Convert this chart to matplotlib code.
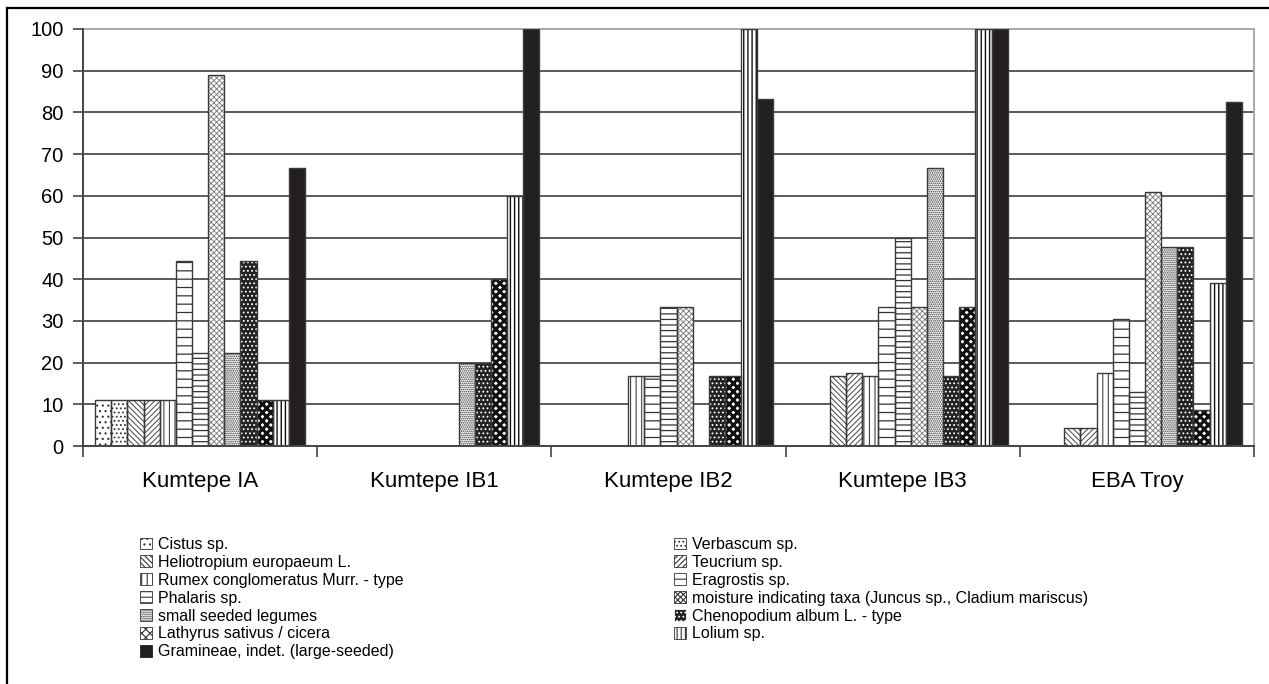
import matplotlib
matplotlib.use("Agg")
import matplotlib.pyplot as plt
import matplotlib.patches as mpatches
from matplotlib.lines import Line2D
import numpy as np

plt.rcParams['font.family'] = ['Liberation Sans', 'DejaVu Sans']
plt.rcParams['hatch.linewidth'] = 0.8

# sites (x groups)
sites = ["Kumtepe IA", "Kumtepe IB1", "Kumtepe IB2", "Kumtepe IB3", "EBA Troy"]

# taxa, in plotting order
taxa = [
    "Cistus sp.",
    "Verbascum sp.",
    "Heliotropium europaeum L.",
    "Teucrium sp.",
    "Rumex conglomeratus Murr. - type",
    "Eragrostis sp.",
    "Phalaris sp.",
    "moisture indicating taxa (Juncus sp., Cladium mariscus)",
    "small seeded legumes",
    "Chenopodium album L. - type",
    "Lathyrus sativus / cicera",
    "Lolium sp.",
    "Gramineae, indet. (large-seeded)",
]

# percentage values per taxon, one per site
cistus       = [11.1, 0, 0, 0, 0]
verbascum    = [11.1, 0, 0, 0, 0]
heliotropium = [11.1, 0, 0, 16.7, 4.3]
teucrium     = [11.1, 0, 0, 17.4, 4.3]
rumex        = [11.1, 0, 16.7, 16.7, 17.4]
eragrostis   = [44.4, 0, 16.7, 33.3, 30.4]
phalaris     = [22.2, 0, 33.3, 50.0, 13.0]
moisture     = [88.9, 0, 33.3, 33.3, 60.9]
legumes      = [22.2, 20.0, 0, 66.7, 47.8]
chenopodium  = [44.4, 20.0, 16.7, 16.7, 47.8]
lathyrus     = [11.1, 40.0, 16.7, 33.3, 8.7]
lolium       = [11.1, 60.0, 100, 100, 39.1]
gramineae    = [66.7, 100, 83.3, 100, 82.6]

values = [cistus, verbascum, heliotropium, teucrium, rumex, eragrostis,
          phalaris, moisture, legumes, chenopodium, lathyrus, lolium, gramineae]

# (facecolor, hatch, hatch colour, hatch linewidth)
styles = [
    ("white", "...", "#333333", 0.8),
    ("white", "....", "#333333", 0.8),
    ("white", "\\" * 6, "#444444", 0.7),
    ("white", "/" * 6, "#444444", 0.7),
    ("white", "|||", "#444444", 0.8),
    ("white", "--", "#333333", 0.9),
    ("white", "---", "#333333", 0.9),
    ("white", "xxxxxx", "#777777", 0.6),
    ("white", "........", "#333333", 0.8),
    ("#222222", "....", "white", 0.8),
    ("white", "xxxx", "#111111", 2.2),
    ("white", "||||", "#111111", 1.0),
    ("#231f20", "", "#231f20", 0.8),
]

fig = plt.figure(figsize=(12.69, 6.84), dpi=100)
ax = fig.add_axes([83 / 1269, 238 / 684, (1254 - 83) / 1269, (446 - 29) / 684])

x = np.arange(len(sites))
w = 1 / 14.5
edge = "#3a3a3a"
handles = []
for j, (vals, (fc, hatch, hc, hlw)) in enumerate(zip(values, styles)):
    pos = x + (j - 6) * w
    vals = np.array(vals, dtype=float)
    m = vals > 0
    with plt.rc_context({"hatch.linewidth": hlw}):
        bars = ax.bar(pos[m], vals[m], width=w, facecolor=fc, edgecolor=hc,
                      hatch=hatch, linewidth=0, zorder=3)
        h = mpatches.Patch(facecolor=fc, edgecolor=hc, hatch=hatch, linewidth=0)
    for b in list(bars) + [h]:
        if hasattr(b, "set_hatch_linewidth"):
            b.set_hatch_linewidth(hlw)
    ax.bar(pos[m], vals[m], width=w, fill=False, edgecolor=edge,
           linewidth=1.0, zorder=4)
    handles.append(h)

ax.set_xlim(-0.5, 4.5)
ax.set_ylim(0, 100)
ax.set_yticks(np.arange(0, 101, 10))
ax.set_xticks(np.arange(-0.5, 4.6, 1))
ax.set_xticklabels([])
ax.set_xticks(x, minor=True)
ax.set_xticklabels(sites, minor=True)
ax.tick_params(axis="x", which="minor", length=0, pad=18, labelsize=16)
ax.tick_params(axis="x", which="major", length=8, width=1.2, color="#444444",
               direction="out")
ax.tick_params(axis="y", length=7, width=1.2, color="#444444", labelsize=14.5,
               pad=7)

ax.yaxis.grid(True, color="#5a5a5a", linewidth=1.4, zorder=0)
ax.set_axisbelow(True)
for s in ("top", "right"):
    ax.spines[s].set_color("#aaaaaa")
    ax.spines[s].set_linewidth(1.4)
for s in ("left", "bottom"):
    ax.spines[s].set_color("#444444")
    ax.spines[s].set_linewidth(1.4)
    ax.spines[s].set_zorder(5)

# legend in two columns, filled row by row
left_idx = [0, 2, 4, 6, 8, 10, 12]
right_idx = [1, 3, 5, 7, 9, 11]
leg_kw = dict(frameon=False, fontsize=11.5, handlelength=0.75,
              handleheight=0.75, handletextpad=0.35, labelspacing=0.18,
              borderpad=0, borderaxespad=0, loc="upper left")
leg1 = fig.legend([handles[i] for i in left_idx], [taxa[i] for i in left_idx],
                  bbox_to_anchor=(140 / 1269, 1 - 537 / 684), **leg_kw)
leg2 = fig.legend([handles[i] for i in right_idx], [taxa[i] for i in right_idx],
                  bbox_to_anchor=(674 / 1269, 1 - 537 / 684), **leg_kw)
for leg in (leg1, leg2):
    for p in leg.get_patches():
        p.set_linewidth(0.6)
        if p.get_facecolor()[0] > 0.5:
            p.set_edgecolor("#333333")

# outer frame (top and left edges)
fig.add_artist(Line2D([7 / 1269, 1], [1 - 8 / 684, 1 - 8 / 684],
                      color="black", linewidth=1.6))
fig.add_artist(Line2D([7 / 1269, 7 / 1269], [0, 1 - 8 / 684],
                      color="black", linewidth=1.6))

fig.savefig("out.png", dpi=100)
